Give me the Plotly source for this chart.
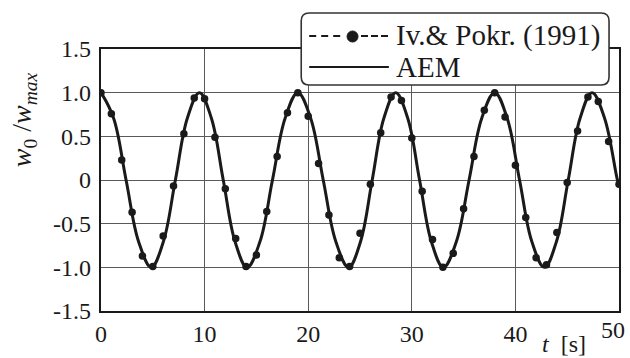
import plotly.graph_objects as go

# ---- data ----
# Iv. & Pokr. (1991) sampled points
iv_t = list(range(0, 51))
iv_w = [1.00, 0.76, 0.23, -0.37, -0.87, -0.99, -0.64, -0.07, 0.53, 0.94,
        0.93, 0.49, -0.10, -0.67, -0.99, -0.86, -0.36, 0.27, 0.77, 1.00,
        0.73, 0.19, -0.40, -0.89, -0.99, -0.61, -0.05, 0.54, 0.95, 0.91,
        0.48, -0.13, -0.68, -1.00, -0.84, -0.33, 0.27, 0.80, 1.00, 0.72,
        0.17, -0.43, -0.89, -0.97, -0.60, -0.03, 0.56, 0.95, 0.90, 0.44,
        -0.05]

# AEM curve (peaks, troughs, crossings and intermediate points)
aem_t = [0.0, 1.21, 2.42, 3.64, 4.85, 6.01, 7.18, 8.34, 9.5,
         10.65, 11.8, 12.95, 14.1, 15.33, 16.55, 17.78, 19.0,
         20.23, 21.45, 22.68, 23.9, 25.04, 26.18, 27.31, 28.45,
         29.6, 30.75, 31.9, 33.05, 34.29, 35.53, 36.76, 38.0,
         39.2, 40.4, 41.6, 42.8, 43.95, 45.1, 46.25, 47.4,
         48.6, 49.85, 50.0]
aem_w = [1.0, 0.71, 0.0, -0.71, -1.0, -0.71, 0.0, 0.71, 1.0,
         0.71, 0.0, -0.71, -1.0, -0.71, 0.0, 0.71, 1.0,
         0.71, 0.0, -0.71, -1.0, -0.71, 0.0, 0.71, 1.0,
         0.71, 0.0, -0.71, -1.0, -0.71, 0.0, 0.71, 1.0,
         0.71, 0.0, -0.71, -1.0, -0.71, 0.0, 0.71, 1.0,
         0.71, 0.0, -0.05]

x_ticks = [0, 10, 20, 30, 40, 50]
x_ticktext = ['0', '10', '20', '30', '40', '']  # last label placed as annotation below
x_last_label = '50'
y_ticks = [-1.5, -1.0, -0.5, 0, 0.5, 1.0, 1.5]
y_ticktext = ['-1.5', '-1.0', '-0.5', '0', '0.5', '1.0', '1.5']

series_names = ['Iv.&amp; Pokr. (1991)', 'AEM']

# ---- layout geometry ----
W, H = 630, 358
ML, MR, MT, MB = 101, 9, 49, 47
PW, PH = W - ML - MR, H - MT - MB
FONT = 'Liberation Serif'
INK = '#1a1a1a'


def px(xp):
    return (xp - ML) / PW


def py(yp):
    return (H - MB - yp) / PH


fig = go.Figure()
fig.add_trace(go.Scatter(x=aem_t, y=aem_w, mode='lines', name='AEM',
                         line=dict(color=INK, width=3, shape='spline', smoothing=1.1),
                         showlegend=False))
fig.add_trace(go.Scatter(x=iv_t, y=iv_w, mode='markers', name='Iv.& Pokr. (1991)',
                         marker=dict(color=INK, size=7.5),
                         showlegend=False))

axis_common = dict(showline=True, linecolor=INK, linewidth=2.4, mirror=True,
                   showgrid=True, gridcolor='#5a5a5a', gridwidth=1.2,
                   zeroline=False, ticks='',
                   tickfont=dict(family=FONT, size=24, color=INK))

fig.update_xaxes(range=[0, 50], tickvals=x_ticks, ticktext=x_ticktext, **axis_common)
fig.update_yaxes(range=[-1.5, 1.5], tickvals=y_ticks, ticktext=y_ticktext,
                 ticklabelstandoff=3, **axis_common)

# ---- legend box drawn by hand (rounded) ----
bx0, bx1, by0, by1, r = 302, 611, 13, 85, 8
rx, ry = r / PW, r / PH
X0, X1, Y0, Y1 = px(bx0), px(bx1), py(by0), py(by1)
path = (f"M{X0+rx},{Y0} L{X1-rx},{Y0} Q{X1},{Y0} {X1},{Y0-ry} "
        f"L{X1},{Y1+ry} Q{X1},{Y1} {X1-rx},{Y1} "
        f"L{X0+rx},{Y1} Q{X0},{Y1} {X0},{Y1+ry} "
        f"L{X0},{Y0-ry} Q{X0},{Y0} {X0+rx},{Y0} Z")
shapes = [dict(type='path', xref='paper', yref='paper', path=path,
               fillcolor='white', line=dict(color='#333', width=1.6), layer='above')]
# sample lines
shapes.append(dict(type='line', xref='paper', yref='paper', x0=px(310), x1=px(346),
                   y0=py(36), y1=py(36), line=dict(color=INK, width=2, dash='7px,5px'), layer='above'))
shapes.append(dict(type='line', xref='paper', yref='paper', x0=px(362), x1=px(390),
                   y0=py(36), y1=py(36), line=dict(color=INK, width=2, dash='7px,3px'), layer='above'))
shapes.append(dict(type='circle', xref='paper', yref='paper',
                   x0=px(348), x1=px(359), y0=py(31), y1=py(42),
                   fillcolor=INK, line=dict(color=INK, width=1), layer='above'))
shapes.append(dict(type='line', xref='paper', yref='paper', x0=px(310), x1=px(390),
                   y0=py(67), y1=py(67), line=dict(color=INK, width=2), layer='above'))

annotations = [
    dict(xref='paper', yref='paper', x=px(395), y=py(35), xanchor='left', yanchor='middle',
         text=series_names[0], showarrow=False, font=dict(family=FONT, size=29, color=INK)),
    dict(xref='paper', yref='paper', x=px(395), y=py(67), xanchor='left', yanchor='middle',
         text=series_names[1], showarrow=False, font=dict(family=FONT, size=29, color=INK)),
    dict(xref='paper', yref='paper', x=px(24), y=py(120), xanchor='center', yanchor='middle',
         textangle=-90, showarrow=False,
         text='<i>w</i><sub>0</sub> /<i>w</i><sub><i>max</i></sub>',
         font=dict(family=FONT, size=28, color=INK)),
    dict(xref='paper', yref='paper', x=px(566), y=py(344), xanchor='center', yanchor='middle',
         showarrow=False, text='<i>t</i>&nbsp;&nbsp;[s]',
         font=dict(family=FONT, size=24, color=INK)),
    dict(xref='x', yref='paper', x=x_ticks[-1], y=py(330), xanchor='center', yanchor='middle',
         xshift=-6, showarrow=False, text=x_last_label,
         font=dict(family=FONT, size=24, color=INK)),
]

fig.update_layout(width=W, height=H, margin=dict(l=ML, r=MR, t=MT, b=MB),
                  paper_bgcolor='white', plot_bgcolor='white',
                  shapes=shapes, annotations=annotations, showlegend=False)

fig.write_html('out.html')
